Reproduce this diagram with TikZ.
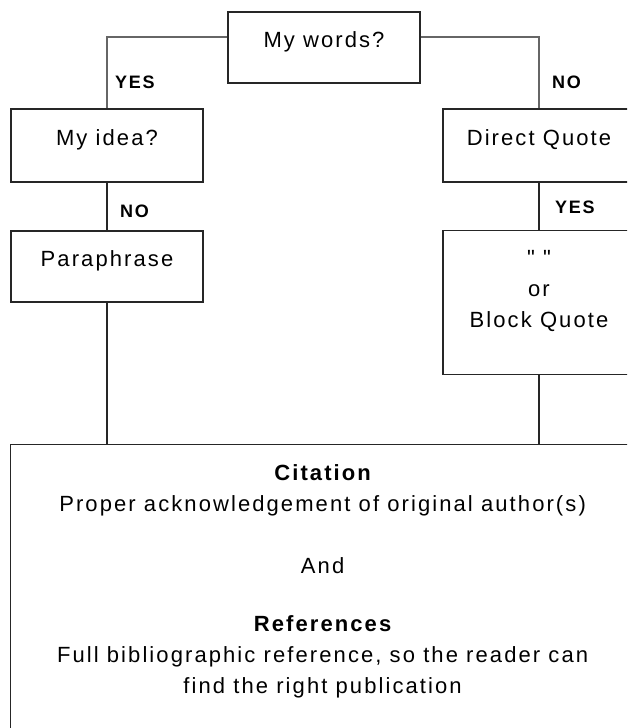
\documentclass[tikz,border=0pt]{standalone}
\usepackage{fontspec}
\setmainfont{Liberation Sans}[LetterSpace=9.5]
\usetikzlibrary{calc}
\tikzset{box/.style={draw=black!85, line width=1.2pt, minimum width=192pt, inner ysep=0pt, align=center}}
\tikzset{link/.style={draw=black!60, line width=1.2pt}}
\tikzset{wire/.style={draw=black!85, line width=1.2pt}}
\tikzset{answer/.style={inner sep=0pt, anchor=west, font=\fontsize{18}{20}\selectfont\bfseries}}
\newcommand{\dq}{{\addfontfeature{Ligatures=TeXOff}"}}

\begin{document}
\begin{tikzpicture}[x=1pt, y=-1pt, font=\fontsize{22}{31}\selectfont]
	% The page cuts off the right-hand boxes
	\clip (0,0) rectangle (627,728);

	\node[box, text height=35.5pt, text depth=35.5pt] (words) at (324,47.5) {My words?};
	\node[box, text height=36.5pt, text depth=36.5pt] (idea) at (107,145.5) {My idea?};	\node[box, text height=36.5pt, text depth=36.5pt] (direct) at (539,145.5) {Direct Quote};
	\node[box, text height=35.5pt, text depth=35.5pt] (para) at (107,266.5) {Paraphrase};	\node[box, anchor=north, text height=97pt, text depth=47pt] (block) at (539,230) {\dq\ \dq\\or\\Block Quote};

	\node[box, anchor=north west, minimum width=624pt, text height=249pt, text depth=100pt] (cite) at (10,444)
		{{\bfseries Citation}\\Proper acknowledgement of original author(s)\\[31pt]And\\[27pt]{\bfseries References}\\Full bibliographic reference, so the reader can\\find the right publication};

	\node[answer] (yes1) at (115,82) {YES};	\node[answer] (no1) at (552,82) {NO};
	\node[answer] (no2) at (120,211) {NO};	\node[answer] (yes2) at (555,207) {YES};

	\draw[link] ([yshift=10.5pt]words.west) -| (idea.north);
	\draw[link] ([yshift=10.5pt]words.east) -| (direct.north);

	\draw[wire] (idea) -- (para);
	\draw[wire] (direct) -- (block);

	\draw[wire] (para) -- (para |- cite.north);
	\draw[wire] (block) -- (block |- cite.north);

\end{tikzpicture}
\end{document}
